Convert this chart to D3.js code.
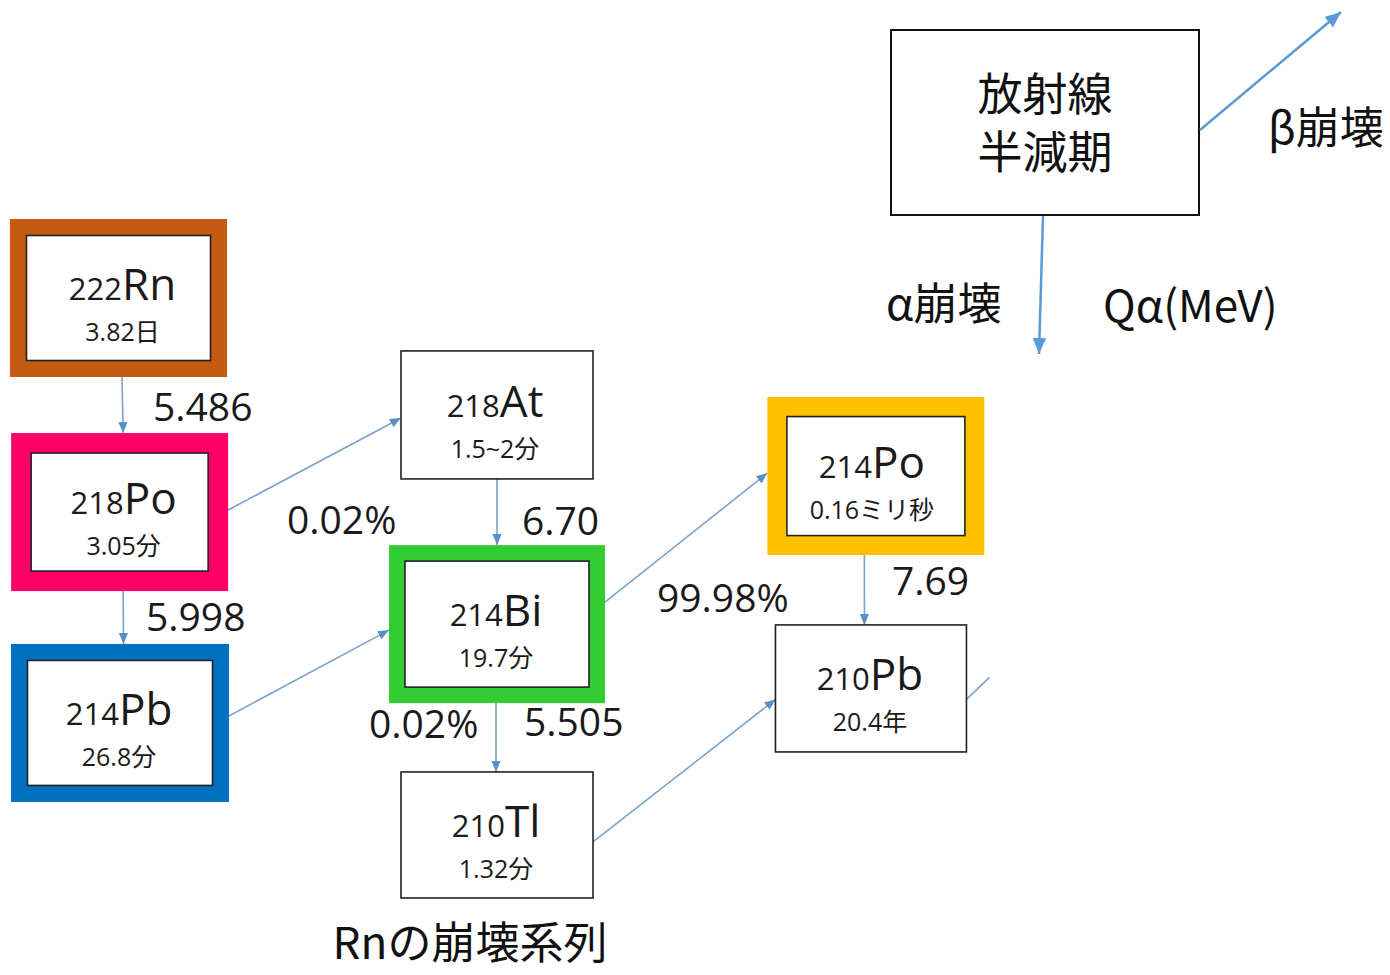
<!DOCTYPE html>
<html><head><meta charset="utf-8">
<script src="https://cdn.jsdelivr.net/npm/d3@7"></script>
<style>html,body{margin:0;padding:0;background:#fff;}svg{display:block;}</style>
</head><body>
<svg id="c" width="1390" height="975"></svg>
<script>
// ---- data ----
const nodeIds     = ["Rn222","Po218","Pb214","At218","Bi214","Tl210","Po214","Pb210"];
const massNumbers = ["222","218","214","218","214","210","214","210"];
const symbols     = ["Rn","Po","Pb","At","Bi","Tl","Po","Pb"];
const halfLives   = ["3.82日","3.05分","26.8分","1.5~2分","19.7分","1.32分","0.16ミリ秒","20.4年"];
const decaySources = ["Rn222","Po218","Po218","Pb214","At218","Bi214","Bi214","Tl210","Po214","Pb210"];
const decayTargets = ["Po218","Pb214","At218","Bi214","Bi214","Po214","Tl210","Pb210","Pb210",null];
const decayTypes   = ["alpha","alpha","beta","beta","alpha","beta","alpha","beta","alpha","beta"];
const qValues      = ["5.486","5.998","6.70","5.505","7.69"];     // α energies Qα (MeV)
const branchRatios = ["0.02%","99.98%","0.02%"];
const legendTexts  = ["放射線","半減期"];
const legendLabels = ["β崩壊","α崩壊","Qα(MeV)"];
const title = "Rnの崩壊系列";

// ---- layout / style (separate from data) ----
const xCol = d3.scaleLinear().domain([0,1]).range([118.5,497]);
const yLev = d3.scaleLinear().domain([0,1]).range([298,511]);
const nodeLayout = {
  Rn222:{col:0,     lev:0,    w:217,h:158,frame:16.5,color:"#c55a11",tdx:4},
  Po218:{col:0.003, lev:1.005,w:217,h:158,frame:20,  color:"#ff0066",tdx:4},
  Pb214:{col:0.004, lev:1.995,w:218,h:158,frame:16.5,color:"#0070c0",tdx:-1},
  At218:{col:1,     lev:0.549,w:192,h:128,frame:0,tdx:-2},
  Bi214:{col:1,     lev:1.531,w:216,h:158,frame:16,  color:"#33cc33",tdx:-1},
  Tl210:{col:1,     lev:2.521,w:192,h:126,frame:0,tdx:-1},
  Po214:{col:2.001, lev:0.836,w:217,h:158,frame:19.5,color:"#ffc000",tdx:-4},
  Pb210:{col:1.988, lev:1.833,w:191,h:127,frame:0,tdx:-1}
};
const edgeLayout = [
  {sx:3.5,  tx:3.5},
  {sx:3.5,  tx:3.5},
  {sdy:-2, tdy:3},
  {sdy:-7, tdy:6},
  {sx:0, tx:0},
  {sdy:-22,tdy:-3},
  {sx:-1,tx:-1},
  {sdy:7, tdy:11},
  {sx:-11.5,tx:-6.5},
  {sdy:11, ex:23, ey:-22}
];
// label positions (left x, baseline y)
const qPos = [[153,421],[146,631],[522,535],[524,736],[892,595]];
const brPos = [[287,534],[657,612],[369,738]];

const svg = d3.select("#c");
const edgeColor = "#7ba3cc", headColor = "#5b8fc8", legendColor = "#5b9bd5";
const latin = "'Open Sans','Noto Sans CJK JP',sans-serif";
const cjk = "'Noto Sans CJK JP','Open Sans',sans-serif";

const defs = svg.append("defs");
function marker(id, color, size){
  defs.append("marker").attr("id",id).attr("viewBox","0 0 10 10")
    .attr("refX",10).attr("refY",5).attr("markerUnits","userSpaceOnUse")
    .attr("markerWidth",size).attr("markerHeight",size).attr("orient","auto")
    .append("path").attr("d","M0,0.8 L10,5 L0,9.2 Z").attr("fill",color);
}
marker("ah", headColor, 11);
marker("ahL", legendColor, 16);

const nodes = nodeIds.map((id,i)=>{
  const L = nodeLayout[id];
  return {id, mass:massNumbers[i], sym:symbols[i], hl:halfLives[i], ...L,
          cx:xCol(L.col), cy:yLev(L.lev)};
});
const byId = Object.fromEntries(nodes.map(n=>[n.id,n]));

// ---- edges ----
const edges = decaySources.map((s,i)=>({s:byId[s], t:decayTargets[i]?byId[decayTargets[i]]:null, type:decayTypes[i], L:edgeLayout[i]}));
const eg = svg.append("g");
edges.forEach(e=>{
  const s=e.s, t=e.t, L=e.L;
  let x1,y1,x2,y2, head=true;
  if(e.type==="alpha"){
    x1 = s.cx + (L.sx||0); y1 = s.cy + s.h/2;
    x2 = t.cx + (L.tx||0); y2 = t.cy - t.h/2;
  } else if(t){
    x1 = s.cx + s.w/2; y1 = s.cy + (L.sdy||0);
    x2 = t.cx - t.w/2; y2 = t.cy + (L.tdy||0);
  } else {
    x1 = s.cx + s.w/2; y1 = s.cy + (L.sdy||0);
    x2 = x1 + L.ex; y2 = y1 + L.ey; head=false;
  }
  eg.append("line").attr("x1",x1).attr("y1",y1).attr("x2",x2).attr("y2",y2)
    .attr("stroke",edgeColor).attr("stroke-width",1.6)
    .attr("marker-end", head?"url(#ah)":null);
});

// ---- nodes ----
const ng = svg.append("g").selectAll("g").data(nodes).join("g");
ng.filter(d=>d.frame>0).append("rect")
  .attr("x",d=>d.cx-d.w/2).attr("y",d=>d.cy-d.h/2).attr("width",d=>d.w).attr("height",d=>d.h)
  .attr("fill",d=>d.color);
ng.append("rect")
  .attr("x",d=>d.cx-d.w/2+d.frame).attr("y",d=>d.cy-d.h/2+d.frame)
  .attr("width",d=>d.w-2*d.frame).attr("height",d=>d.h-2*d.frame)
  .attr("fill","#fff").attr("stroke","#222").attr("stroke-width",1.6);
const nt = ng.append("text").attr("x",d=>d.cx+d.tdx).attr("y",d=>d.cy+2)
  .attr("text-anchor","middle").attr("fill","#1a1a1a").attr("font-family",latin);
nt.append("tspan").attr("font-size",31).text(d=>d.mass);
nt.append("tspan").attr("font-size",44).text(d=>d.sym);
ng.append("text").attr("x",d=>d.cx+d.tdx).attr("y",d=>d.cy+43)
  .attr("text-anchor","middle").attr("fill","#1a1a1a").attr("font-family",latin)
  .attr("font-size",25).text(d=>d.hl);

// ---- labels ----
const lg = svg.append("g").attr("font-family",latin).attr("font-size",39).attr("fill","#1a1a1a");
qValues.forEach((q,i)=>lg.append("text").attr("x",qPos[i][0]).attr("y",qPos[i][1]).text(q));
branchRatios.forEach((b,i)=>lg.append("text").attr("x",brPos[i][0]).attr("y",brPos[i][1]).text(b));

// ---- legend ----
const leg = svg.append("g");
leg.append("rect").attr("x",891).attr("y",30).attr("width",308).attr("height",185)
  .attr("fill","#fff").attr("stroke","#111").attr("stroke-width",2);
const lt = leg.append("text").attr("text-anchor","middle").attr("font-family",cjk)
  .attr("font-size",45).attr("fill","#111");
legendTexts.forEach((t,i)=>lt.append("tspan").attr("x",1045).attr("y",111+i*58).text(t));
leg.append("line").attr("x1",1200).attr("y1",130).attr("x2",1341).attr("y2",12)
  .attr("stroke",legendColor).attr("stroke-width",2.5).attr("marker-end","url(#ahL)");
leg.append("line").attr("x1",1043).attr("y1",216).attr("x2",1039).attr("y2",354)
  .attr("stroke",legendColor).attr("stroke-width",2.5).attr("marker-end","url(#ahL)");
const legPos = [[1268,144],[886,320],[1103,322]];
legendLabels.forEach((t,i)=>leg.append("text").attr("x",legPos[i][0]).attr("y",legPos[i][1])
  .attr("font-family",cjk).attr("font-size",44).attr("fill","#111").text(t));

// ---- title ----
svg.append("text").attr("x",470).attr("y",959).attr("text-anchor","middle")
  .attr("font-family",cjk).attr("font-size",44).attr("fill","#111").text(title);
</script>
</body></html>
